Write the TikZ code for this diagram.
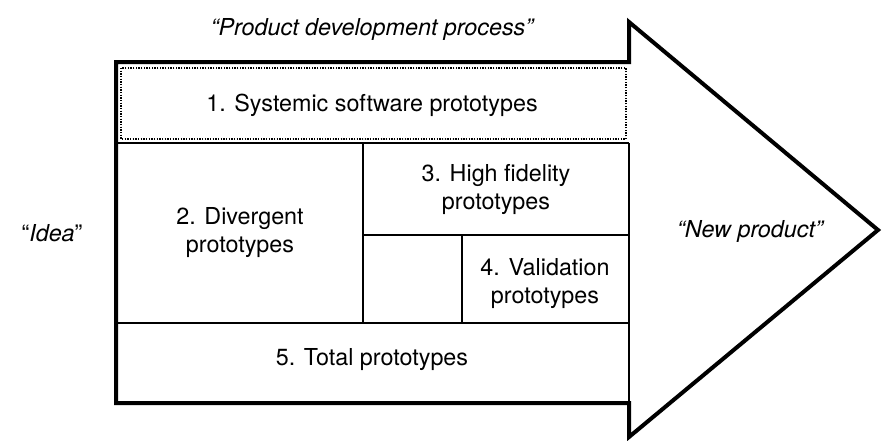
\documentclass[tikz,border=0pt]{standalone}
\usepackage{fontspec}
\setmainfont{TeX Gyre Heros}
\usetikzlibrary{shadows}
\begin{document}
\begin{tikzpicture}[x=0.75pt, y=-0.75pt,
    txt/.style={font=\fontsize{17.5}{21}\selectfont, align=center, inner sep=0pt},
    outline/.style={line width=3pt, line join=miter},
    divider/.style={line width=1.5pt}]
            % Frame to fix the page size
            \useasboundingbox (0,0) rectangle (883,440);
            % Big process arrow
            \draw[outline, fill=white, drop shadow={opacity=0.3, shadow xshift=0.8pt, shadow yshift=-0.8pt}]
                 (116,62) -- (629,62) -- (629,22) -- (878,230) -- (629,437) -- (629,403) -- (116,403) -- cycle;
            % Dotted box on top
            \draw[densely dotted, line width=1pt]                    (121,68) rectangle (626,139);
            % Inner dividers
            \draw[divider, line width=2pt]                           (116,143) -- (629,143);
            \draw[divider]                                           (629,143) -- (629,403);
            \draw[divider]                                           (363,143) -- (363,323);
            \draw[divider]                                           (363,235) -- (629,235);
            \draw[divider]                                           (462,235) -- (462,323);
            \draw[divider]                                           (116,323) -- (629,323);
            % Labels
            \node[txt] (title)   at (372,29)  {\itshape “Product development process”};
            \node[txt] (idea)    at (52,233)  {“\textit{Idea}”};
            \node[txt] (newprod) at (750,231) {\itshape “New product”};
            \node[txt] (sys)     at (372,105) {1. Systemic software prototypes};
            \node[txt] (diverg)  at (240,233) {2. Divergent\\prototypes};
            \node[txt] (hifi)    at (496,189) {3. High fidelity\\prototypes};
            \node[txt] (valid)   at (545,284) {4. Validation\\prototypes};
            \node[txt] (total)   at (372,360) {5. Total prototypes};
\end{tikzpicture}
\end{document}
